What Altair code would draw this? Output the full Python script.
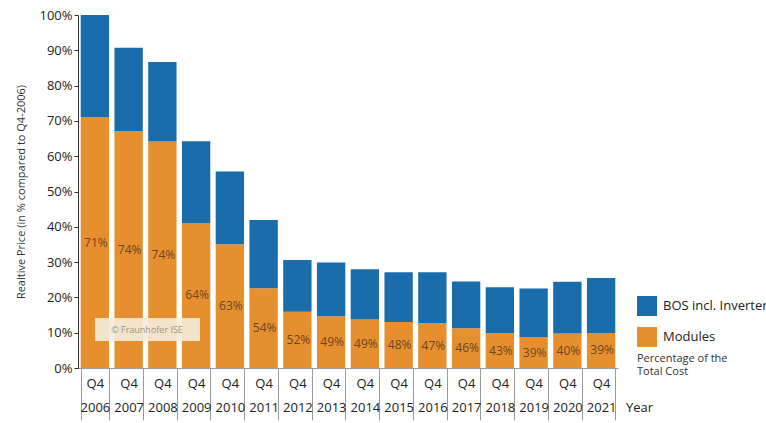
import altair as alt
import pandas as pd

years = [str(y) for y in range(2006, 2022)]
total = [100, 90.7, 86.7, 64.2, 55.7, 41.9, 30.6, 29.9, 28.0, 27.1, 27.1, 24.5, 22.9, 22.5, 24.4, 25.5]
module_share = [71, 74, 74, 64, 63, 54, 52, 49, 49, 48, 47, 46, 43, 39, 40, 39]
series = ["BOS incl. Inverter", "Modules"]
colors = ["#1a6dab", "#e68f2e"]

rows = []
for y, t, s in zip(years, total, module_share):
    m = t * s / 100.0
    rows.append({"year": y, "series": "Modules", "value": m, "ord": 0})
    rows.append({"year": y, "series": "BOS incl. Inverter", "value": t - m, "ord": 1})
df = pd.DataFrame(rows)

lab = pd.DataFrame({"year": years, "total": total, "share": module_share})

FONT = "Open Sans"

xscale = alt.Scale(paddingInner=0.16, paddingOuter=0.08)
xaxis = alt.Axis(title=None, labelAngle=0,
                 labelExpr="indexof(" + str(years) + ", datum.value) >= 0 ? ['Q4', datum.label] : ''",
                 labelLineHeight=24, labelFontSize=13, labelColor="#222",
                 labelFont=FONT, labelPadding=-43, labelFlush=False,
                 labelOverlap=False,
                 tickBand="extent", tickSize=52, tickColor="#9a9a9a",
                 domainColor="#9a9a9a", labelBaseline="top")
yscale = alt.Scale(domain=[0, 100], nice=False)
yaxis = alt.Axis(values=list(range(0, 101, 10)), labelExpr="datum.value + '%'",
                 labelOverlap=False,
                 title="Realtive Price (in % compared to Q4-2006)",
                 titleFontSize=11, titleFontWeight="normal", titleFont=FONT,
                 titleColor="#333", titlePadding=12,
                 labelFontSize=13, labelFont=FONT, labelColor="#222",
                 grid=False, tickSize=4, tickColor="#333", domainColor="#333")

bars = alt.Chart(df).mark_bar().encode(
    x=alt.X("year:N", sort=years, scale=xscale, axis=xaxis),
    y=alt.Y("value:Q", stack="zero", scale=yscale, axis=yaxis),
    color=alt.Color("series:N", scale=alt.Scale(domain=series, range=colors),
                    legend=alt.Legend(title=None, orient="none", legendX=559, legendY=281,
                                      symbolType="square", symbolSize=400,
                                      symbolStrokeWidth=0, symbolOpacity=1,
                                      labelFontSize=13, labelFont=FONT, labelColor="#222",
                                      rowPadding=11, labelOffset=6)),
    order=alt.Order("ord:Q"),
)

labels = alt.Chart(lab).transform_calculate(
    ypos="datum.total * datum.share / 200",
    txt="datum.share + '%'",
).mark_text(fontSize=12, font=FONT, color="#6e4521", dx=1).encode(
    x=alt.X("year:N", sort=years, scale=xscale, axis=xaxis),
    y=alt.Y("ypos:Q", scale=yscale, axis=yaxis),
    text="txt:N",
)

wm_box = alt.Chart().mark_rect(color="#f4ecdc", opacity=0.9).encode(
    x=alt.value(17), x2=alt.value(122), y=alt.value(303), y2=alt.value(326))
wm_txt = alt.Chart().mark_text(text="© Fraunhofer ISE", fontSize=9, font=FONT,
                               color="#9c9488").encode(x=alt.value(69), y=alt.value(315))

pct = alt.Chart().mark_text(text=["Percentage of the", "Total Cost"], fontSize=11, font=FONT,
                            color="#333", align="left", baseline="top", lineHeight=13).encode(
    x=alt.value(559), y=alt.value(338))
year_txt = alt.Chart().mark_text(text="Year", fontSize=13, font=FONT, color="#222",
                                 align="left", baseline="middle").encode(
    x=alt.value(548), y=alt.value(40 + 353))

chart = alt.layer(bars, labels, wm_box, wm_txt, pct, year_txt).properties(
    width=540, height=353,
    background="white",
    autosize=alt.AutoSizeParams(type="none"),
    padding={"left": 78, "top": 15, "right": 148, "bottom": 55},
).configure_view(stroke=None)

chart.save("out.html", embed_options={"renderer": "svg", "actions": False})
